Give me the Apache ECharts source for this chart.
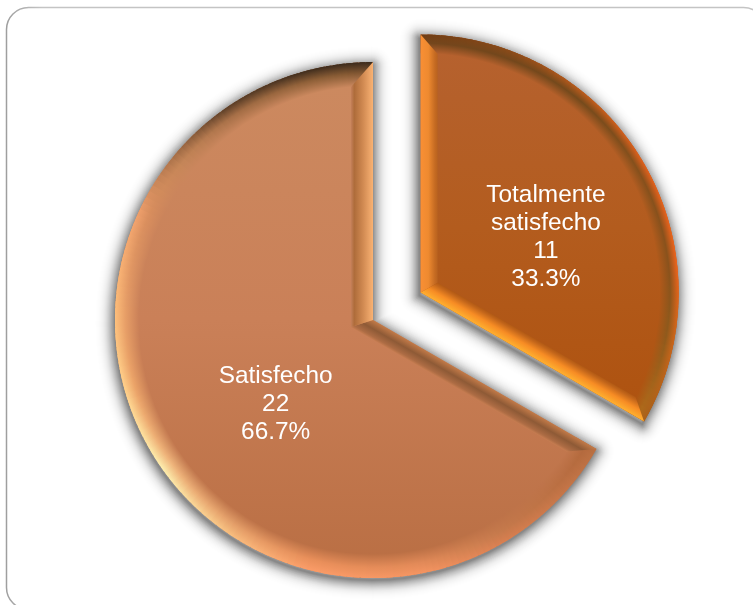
<!DOCTYPE html>
<html><head><meta charset="utf-8">
<style>html,body{margin:0;padding:0;background:#fff}#c{width:753px;height:605px}</style>
<script src="https://cdn.jsdelivr.net/npm/echarts@6/dist/echarts.min.js"></script>
</head><body><div id="c"></div>
<script>
const categories = ['Totalmente satisfecho', 'Satisfecho'];
const values = [11, 22];

const CX = 373, CY = 320, R = 258, EXPLODE = 55;
const G = echarts.graphic;

// bevel colour by clockwise angle from 12 o'clock (degrees): [angle, outer, middle]
const rimBig = [
  [120,'#b96f42','#b2683c'],[150,'#d97f50','#c67a4c'],[170,'#f59562','#e28a58'],[195,'#fb9c68','#e98f5a'],
  [215,'#f8c080','#e5a06a'],[235,'#fdf0b0','#efb57c'],[255,'#ffd28c','#eba368'],[275,'#fdbb78','#e59c66'],
  [295,'#f0a06c','#d98e5e'],[310,'#a87048','#c58658'],[325,'#5f4028','#a87048'],[345,'#3f2c1c','#8f6038'],[360,'#3a2a1c','#7f5530']
];
const rimSmall = [
  [0,'#6f3c14','#74461c'],[20,'#8a4a18','#73471c'],[40,'#bd5c1c','#754a1c'],[60,'#e0601c','#85501c'],
  [85,'#f0651c','#8a521c'],[100,'#d0661a','#8e5a1c'],[120,'#a8601a','#b06a1a']
];
const strips = [
  { start: {width: 17, stops: ['#f98f34','#ee8a30','#c46a22','#b9621f']},
    end:   {width: 17, stops: ['#ffb030','#f78c24','#c2651a','#b25a14']} },
  { start: {width: 17, stops: ['#c27a48','#8e5a36','#ad6c44','#c57c50']},
    end:   {width: 22, stops: ['#f9b273','#d18a52','#ae6c3a','#c4805a']} }
];
const rimWidth = [19, 24];
const faces = [['#b66230','#b35c1e','#ae520f'], ['#cc8a60','#ca8058','#b96e43']];

function hexMix(a, b, t) {
  const p = c => c[0]==='#' ? [1,3,5].map(i => parseInt(c.substr(i,2),16)) : c.match(/\d+/g).map(Number);
  const x = p(a), y = p(b);
  return 'rgb(' + x.map((v,i) => Math.round(v + (y[i]-v)*t)).join(',') + ')';
}
function rimAt(tbl, ang) {
  for (let i = 0; i < tbl.length - 1; i++) {
    if (ang >= tbl[i][0] && ang <= tbl[i+1][0]) {
      const t = (ang - tbl[i][0]) / (tbl[i+1][0] - tbl[i][0]);
      return [hexMix(tbl[i][1], tbl[i+1][1], t), hexMix(tbl[i][2], tbl[i+1][2], t)];
    }
  }
  const l = tbl[tbl.length-1];
  return [l[1], l[2]];
}
const dir = a => { const r = a*Math.PI/180; return [Math.sin(r), -Math.cos(r)]; };

const total = values.reduce((a,b)=>a+b,0);
function sliceInfo(idx) {
  let a0 = 0;
  for (let i = 0; i < idx; i++) a0 += values[i]/total*360;
  const a1 = a0 + values[idx]/total*360;
  const mid = dir((a0+a1)/2);
  const off = idx === 0 ? EXPLODE : 0;
  return {a0, a1, ax: CX + mid[0]*off, ay: CY + mid[1]*off};
}

// soft shadow: stacked translucent outlines around the slice outline
function renderShadow(params) {
  const {a0, a1, ax, ay} = sliceInfo(params.dataIndex);
  const children = [];
  const K = 20;
  for (let k = K; k >= 1; k--) {
    const t = 1 - k/K;
    children.push({type:'sector', silent:true,
      shape:{cx:ax-1, cy:ay+3, r:R-1, r0:0, startAngle:(a0-90)*Math.PI/180, endAngle:(a1-90)*Math.PI/180, clockwise:true},
      style:{fill:'none', stroke:'rgba(0,0,0,'+(0.003+0.085*t*t).toFixed(4)+')', lineWidth:k*2, lineJoin:'round'}});
  }
  return {type:'group', children};
}

function renderBevel(params) {
  const idx = params.dataIndex;
  const {a0, a1, ax, ay} = sliceInfo(idx);
  const children = [];
  const tbl = idx === 0 ? rimSmall : rimBig;
  const rw = rimWidth[idx];
  const n = Math.round((a1-a0)/1.5);
  const yTop = ay - R;
  const yBot = idx === 0 ? ay + R*0.5 : ay + R;
  const fc = faces[idx];
  const faceAt = y => {
    const t = Math.max(0, Math.min(1, (y-yTop)/(yBot-yTop)));
    return t < 0.5 ? hexMix(fc[0], fc[1], t*2) : hexMix(fc[1], fc[2], t*2-1);
  };
  for (let i = 0; i < n; i++) {
    const s = a0 + (a1-a0)*i/n, e = Math.min(a1, a0 + (a1-a0)*(i+1)/n + 1.2);
    const c = rimAt(tbl, (s+e)/2);
    const k = (R-rw)/R;
    const f = faceAt(ay + dir((s+e)/2)[1]*(R-rw));
    const stops = [
      {offset: k, color: f},
      {offset: k + (1-k)*0.55, color: c[1]},
      {offset: 1, color: c[0]}
    ];
    children.push({
      type: 'sector', silent: true,
      shape: {cx: ax, cy: ay, r: R, r0: R-rw,
        startAngle: (s-90)*Math.PI/180, endAngle: (e-90)*Math.PI/180, clockwise: true},
      style: {fill: new G.RadialGradient(ax, ay, R, stops, true)}
    });
  }
  // straight edges, mitred at both ends
  const mk = (ang, inward, w, cols, other) => {
    const u = dir(ang);
    const nrm = dir(ang + inward*90);
    const sinA = Math.sin((a1-a0)*Math.PI/180);
    const cosA = Math.cos((a1-a0)*Math.PI/180);
    const along = (other + w*cosA) / sinA;
    const ia = [ax + nrm[0]*w + u[0]*along, ay + nrm[1]*w + u[1]*along];
    const outer = [ax + u[0]*R, ay + u[1]*R];
    const lenIn = Math.sqrt((R-rw)*(R-rw) - w*w);
    const io = [ax + nrm[0]*w + u[0]*lenIn, ay + nrm[1]*w + u[1]*lenIn];
    const g = new G.LinearGradient(ax, ay, ax + nrm[0]*w, ay + nrm[1]*w,
      [{offset:0,color:cols[0]},{offset:0.45,color:cols[1]},{offset:0.85,color:cols[2]},{offset:1,color:cols[3]}], true);
    children.push({type:'polygon', silent:true,
      shape:{points:[[ax,ay],outer,io,ia]}, style:{fill:g}});
  };
  const st = strips[idx];
  mk(a0,  1, st.start.width, st.start.stops, st.end.width);
  mk(a1, -1, st.end.width, st.end.stops, st.start.width);
  return {type:'group', children};
}

const labelOffsets = [[11,11],[17,18]];
const chart = echarts.init(document.getElementById('c'), null, {renderer:'canvas'});
chart.setOption({
  animation: false,
  backgroundColor: '#fff',
  graphic: [{
    type:'rect', silent:true, z:0,
    shape:{x:6.5, y:7.5, width:759, height:602, r:22},
    style:{fill:'none', lineWidth:1.5,
      stroke:new G.LinearGradient(0,0,1,0,[{offset:0,color:'#9c9c9c'},{offset:0.05,color:'#c4c4c4'},{offset:1,color:'#c4c4c4'}])}
  }],
  series: [{
    type:'custom', z:1, silent:true,
    coordinateSystem:'none',
    data: values,
    renderItem: renderShadow
  },{
    type:'pie', z:2,
    center:[CX,CY], radius:[0,R],
    startAngle:90, clockwise:true,
    selectedMode:'single', selectedOffset:EXPLODE,
    percentPrecision:1,
    silent:true,
    labelLine:{show:false},
    label:{
      show:true, position:'inside', color:'#fff',
      fontFamily:'"Liberation Sans", Arial, sans-serif', fontSize:24.4, lineHeight:28,
      align:'center', verticalAlign:'middle',
      formatter: p => p.name.replace(' ', '\n') + '\n' + p.value + '\n' + p.percent + '%'
    },
    data: categories.map((name,i)=>({
      name, value: values[i], selected: i===0,
      label:{offset: labelOffsets[i]},
      select:{label:{offset: labelOffsets[i]}},
      itemStyle:{
        color:new G.LinearGradient(0,0,0,1,[{offset:0,color:faces[i][0]},{offset:0.5,color:faces[i][1]},{offset:1,color:faces[i][2]}])
      }
    }))
  },{
    type:'custom', z:3, silent:true,
    coordinateSystem:'none',
    data: values,
    renderItem: renderBevel
  }]
});
</script></body></html>
